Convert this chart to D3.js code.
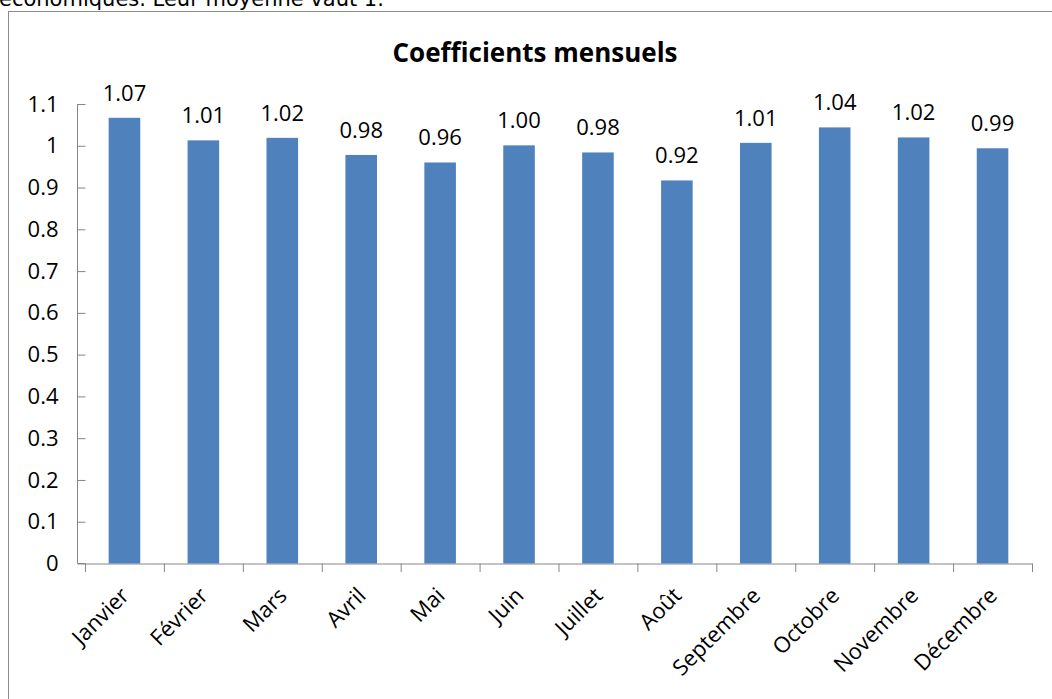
<!DOCTYPE html>
<html><head><meta charset="utf-8">
<script src="https://cdn.jsdelivr.net/npm/d3@7"></script>
<style>body{margin:0;background:#fff;}svg{display:block;}</style>
</head><body>
<script>
const months = ["Janvier","Février","Mars","Avril","Mai","Juin","Juillet","Août","Septembre","Octobre","Novembre","Décembre"];
const coefficients = [1.067,1.013,1.019,0.978,0.960,1.001,0.984,0.917,1.007,1.044,1.020,0.994];
const yTicks = [0,0.1,0.2,0.3,0.4,0.5,0.6,0.7,0.8,0.9,1,1.1];
const titleText = "Coefficients mensuels";
const introText = "économiques. Leur moyenne vaut 1.";

const W = 1052, H = 699;
const svg = d3.select("body").append("svg").attr("width", W).attr("height", H);
const font = "'Open Sans', 'Noto Sans', sans-serif";

svg.append("text").attr("x", -1).attr("y", 6).attr("font-family", "'DejaVu Sans', sans-serif")
  .attr("font-size", 21).attr("fill", "#000").text(introText);

svg.append("rect").attr("x", 8.5).attr("y", 11.5).attr("width", 1100).attr("height", 800)
  .attr("fill", "#fff").attr("stroke", "#8c8c8c").attr("stroke-width", 1);

svg.append("text").attr("x", 535).attr("y", 62).attr("text-anchor", "middle")
  .attr("font-family", font).attr("font-weight", "bold").attr("font-size", 26).text(titleText);

const x = d3.scaleBand().domain(months).range([85, 1032]).paddingInner(0.6).paddingOuter(0.3);
const y = d3.scaleLinear().domain([0, 1.1]).range([563.5, 104]);

const xAxis = svg.append("g").attr("transform", "translate(0,563.5)")
  .call(d3.axisBottom(x).tickSize(0).tickFormat(""));
xAxis.select(".domain").attr("stroke", "#868686");
// category boundary ticks
const bounds = d3.range(months.length + 1).map(i => 85 + i * (1032 - 85) / months.length);
svg.append("g").selectAll("line").data(bounds).join("line")
  .attr("x1", d => d + 0.5).attr("x2", d => d + 0.5).attr("y1", 563.5).attr("y2", 572)
  .attr("stroke", "#868686");

const yAxis = svg.append("g").attr("transform", "translate(85.5,0)")
  .call(d3.axisLeft(y).tickValues(yTicks).tickSize(8).tickPadding(19).tickFormat(d3.format("")));
yAxis.select(".domain").attr("stroke", "#868686").attr("d", "M-8,104V563.5H0");
yAxis.selectAll(".tick line").attr("stroke", "#868686");
yAxis.selectAll("text").attr("font-family", font).attr("font-size", 22).attr("fill", "#000");

svg.append("g").selectAll("rect").data(coefficients).join("rect")
  .attr("x", (d, i) => x(months[i]))
  .attr("width", x.bandwidth())
  .attr("y", d => y(d))
  .attr("height", d => y(0) - y(d))
  .attr("fill", "#4f81bd");

svg.append("g").selectAll("text").data(coefficients).join("text")
  .attr("x", (d, i) => x(months[i]) + x.bandwidth() / 2)
  .attr("y", d => y(d) - 17)
  .attr("text-anchor", "middle")
  .attr("font-family", font).attr("font-size", 22).attr("fill", "#000")
  .text(d => d3.format(".2f")(d));

svg.append("g").selectAll("text").data(months).join("text")
  .attr("transform", d => `translate(${x(d) + x.bandwidth() / 2 + 6},${597}) rotate(-45)`)
  .attr("text-anchor", "end")
  .attr("font-family", font).attr("font-size", 22).attr("fill", "#000")
  .text(d => d);
</script>
</body></html>
